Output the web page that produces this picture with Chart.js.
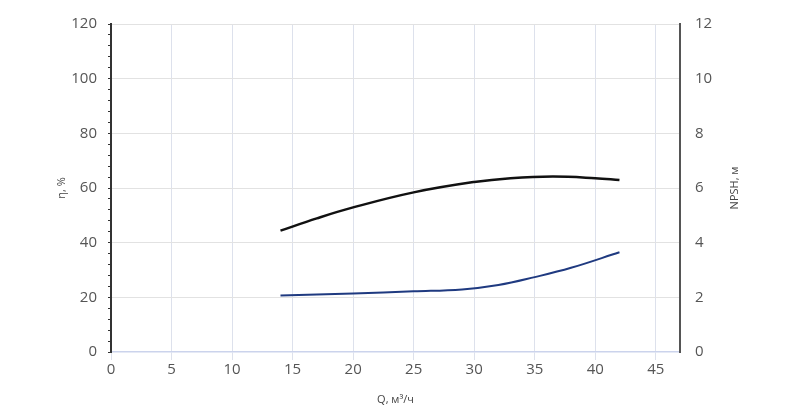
<!DOCTYPE html>
<html>
<head>
<meta charset="utf-8">
<script src="https://cdn.jsdelivr.net/npm/chart.js@4/dist/chart.umd.min.js"></script>
<style>
  html, body { margin: 0; padding: 0; background: #fff; }
  #wrap { width: 800px; height: 408px; }
</style>
</head>
<body>
<div id="wrap"><canvas id="myChart"></canvas></div>
<script>
// flow, m3/h
const flowEff = [14, 17, 20, 25, 30, 33, 36.5, 40, 42];
// efficiency, %
const efficiency = [44.4, 48.9, 52.9, 58.4, 62.2, 63.6, 64.2, 63.6, 62.9];

const flowNpsh = [14, 20, 25, 29, 32, 35, 38, 42];
// NPSH, m
const npsh = [2.07, 2.14, 2.22, 2.29, 2.45, 2.74, 3.08, 3.65];

const xTitle = 'Q, м³/ч';
const yTitle = 'η, %';
const y2Title = 'NPSH, м';

const toPoints = (xs, ys) => xs.map((x, i) => ({ x: x, y: ys[i] }));

const tickFont = { family: '"Open Sans", sans-serif', size: 15 };
const titleFont = { family: '"Open Sans", sans-serif', size: 11 };

// right axis title reads bottom-to-top, so draw it ourselves
const rightTitle = {
    id: 'rightTitle',
    afterDraw(chart) {
        const c = chart.ctx;
        const area = chart.chartArea;
        c.save();
        c.translate(735, (area.top + area.bottom) / 2);
        c.rotate(-Math.PI / 2);
        c.font = '11px "Open Sans", sans-serif';
        c.fillStyle = '#444';
        c.textAlign = 'center';
        c.textBaseline = 'middle';
        c.fillText(y2Title, 0, 0);
        c.restore();
    }
};

const ctx = document.getElementById('myChart').getContext('2d');
let myChart = new Chart(ctx, {
    type: 'line',
    data: {
        datasets: [
            {
                label: yTitle,
                data: toPoints(flowEff, efficiency),
                borderColor: '#111',
                borderWidth: 2.5,
                pointRadius: 0,
                tension: 0.4,
                yAxisID: 'y'
            },
            {
                label: y2Title,
                data: toPoints(flowNpsh, npsh),
                borderColor: '#1f3a80',
                borderWidth: 2,
                pointRadius: 0,
                tension: 0.4,
                yAxisID: 'y2'
            }
        ]
    },
    options: {
        responsive: true,
        maintainAspectRatio: false,
        animation: false,
        layout: { padding: { left: 0, right: 0, top: 22, bottom: 0 } },
        plugins: {
            legend: { display: false },
            tooltip: { enabled: false }
        },
        scales: {
            x: {
                type: 'linear',
                min: 0,
                max: 47,
                ticks: { stepSize: 5, includeBounds: false, color: '#555', font: tickFont, padding: 1, maxRotation: 0 },
                grid: { color: '#dde1ec', tickColor: '#dde1ec', tickLength: 8 },
                border: { color: '#cbd3ec', width: 1.5 },
                title: { display: true, text: xTitle, color: '#444', font: titleFont, padding: { top: 0, bottom: 2 } },
                afterFit(scale) { scale.height = 56; }
            },
            y: {
                position: 'left',
                min: 0,
                max: 120,
                ticks: {
                    stepSize: 4,
                    autoSkip: false,
                    color: '#555',
                    font: tickFont,
                    padding: 11,
                    callback: v => (v % 20 === 0 ? v : '')
                },
                grid: {
                    color: c => (c.tick && c.tick.value % 20 === 0 && c.tick.value !== 0 ? '#e2e2e2' : 'transparent'),
                    tickColor: '#333',
                    tickLength: 3
                },
                border: { color: '#333', width: 2 },
                title: { display: true, text: yTitle, color: '#444', font: titleFont, padding: { top: 55, bottom: 0 } },
                afterFit(scale) { scale.width = 111; }
            },
            y2: {
                position: 'right',
                min: 0,
                max: 12,
                ticks: { stepSize: 2, color: '#555', font: tickFont, padding: 15 },
                grid: { drawOnChartArea: false, drawTicks: false },
                border: { color: '#555', width: 2 },
                afterFit(scale) { scale.width = 120; }
            }
        }
    },
    plugins: [rightTitle]
});
</script>
</body>
</html>
